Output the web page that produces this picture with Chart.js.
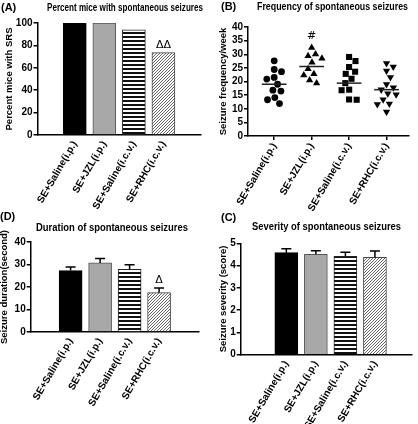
<!DOCTYPE html>
<html>
<head>
<meta charset="utf-8">
<script src="https://cdn.jsdelivr.net/npm/chart.js@4.4.1/dist/chart.umd.min.js"></script>
<style>
html,body{margin:0;padding:0;background:#fff;}
#wrap{position:relative;width:418px;height:424px;overflow:hidden;}
.p{position:absolute;width:209px;height:212px;}
</style>
</head>
<body>
<div id="wrap">
  <div class="p" style="left:0;top:0"><canvas id="cA" width="209" height="212"></canvas></div>
  <div class="p" style="left:209px;top:0"><canvas id="cB" width="209" height="212"></canvas></div>
  <div class="p" style="left:0;top:212px"><canvas id="cD" width="209" height="212"></canvas></div>
  <div class="p" style="left:209px;top:212px"><canvas id="cC" width="209" height="212"></canvas></div>
</div>
<script>
// ---- data ----
const groups = ["SE+Saline(i.p.)", "SE+JZL(i.p.)", "SE+Saline(i.c.v.)", "SE+RHC(i.c.v.)"];

// (A) percent mice with SRS
const pctSRS = [100, 100, 93.8, 73.5];
const pctMarks = ["", "", "", "ΔΔ"];
const pctTicks = [0, 20, 40, 60, 80, 100];

// (B) seizure frequency / week, one point per mouse
const freqSalineIP = [27.6, 24.4, 23.6, 21.5, 20.9, 19.0, 16.8, 16.5, 14.1, 13.3, 11.9];
const freqJZL = [32.4, 30.0, 29.4, 28.5, 27.0, 24.6, 22.8, 22.3, 20.5, 19.4];
const freqSalineICV = [29.0, 27.5, 25.3, 23.6, 22.8, 21.0, 19.4, 17.0, 16.8, 13.4, 13.3];
const freqRHC = [26.7, 25.4, 23.9, 21.5, 19.0, 17.8, 17.0, 15.6, 15.2, 13.4, 11.8, 11.6, 8.9];
const freqLine = [19.0, 25.5, 19.4, 17.0];
const freqMarks = ["", "#", "", ""];
const freqTicks = [0, 5, 10, 15, 20, 25, 30, 35, 40];

// (D) seizure duration, mean + SEM
const durMean = [27.3, 30.7, 27.8, 17.5];
const durSem = [1.6, 2.0, 2.1, 2.1];
const durMarks = ["", "", "", "Δ"];
const durTicks = [0, 10, 20, 30, 40];

// (C) seizure severity, mean + SEM
const sevMean = [4.58, 4.51, 4.42, 4.37];
const sevSem = [0.18, 0.16, 0.18, 0.29];
const sevTicks = [0, 1, 2, 3, 4, 5];

Chart.defaults.font.family = "'Liberation Sans', Arial, sans-serif";
Chart.defaults.font.weight = "bold";
Chart.defaults.color = "#000";
Chart.defaults.animation = false;

// fill patterns like the Prism bars
function stripes(){
  const c = document.createElement("canvas"); c.width = 4; c.height = 4;
  const g = c.getContext("2d");
  g.fillStyle = "#fff"; g.fillRect(0,0,4,4);
  g.fillStyle = "#111"; g.fillRect(0,0,4,2);
  return g.createPattern(c, "repeat");
}
function hatch(){
  const c = document.createElement("canvas"); c.width = 3; c.height = 3;
  const g = c.getContext("2d");
  g.fillStyle = "#fff"; g.fillRect(0,0,3,3);
  g.strokeStyle = "#555"; g.lineWidth = 0.9;
  g.beginPath();
  g.moveTo(-1,4); g.lineTo(4,-1);
  g.moveTo(-1,1); g.lineTo(1,-1);
  g.moveTo(2,4); g.lineTo(4,2);
  g.stroke();
  return g.createPattern(c, "repeat");
}
const barFills = ["#000", "#a8a8a8", stripes(), hatch()];
const barEdges = ["#000", "#555", "#222", "#444"];

/* ====== decorations: titles, SEM whiskers, group lines, marks ====== */
const deco = {
  id: "deco",
  afterDatasetsUpdate(chart, args, o){
    if (!o.swarm) return;
    // simple beeswarm so touching points sit side by side
    chart.data.datasets.forEach((ds, k) => {
      const els = chart.getDatasetMeta(k).data;
      const placed = [];
      els.slice().sort((a,b) => a.y - b.y).forEach(el => {
        const d = o.swarm, cx = el.x;
        const cands = [0];
        placed.forEach(p => {
          const dy = el.y - p.y;
          if (Math.abs(dy) < d){ const dx = Math.sqrt(d*d - dy*dy); cands.push(p.off + dx, p.off - dx); }
        });
        cands.sort((a,b) => Math.abs(a) - Math.abs(b) || b - a);
        const off = cands.find(c => placed.every(p => Math.hypot(c - p.off, el.y - p.y) >= d - 0.01));
        placed.push({off, y: el.y});
        el.x = cx + off;
      });
    });
  },
  afterDatasetsDraw(chart, args, o){
    const ctx = chart.ctx, x = chart.scales.x, y = chart.scales.y;
    ctx.save();
    ctx.strokeStyle = "#000"; ctx.lineWidth = 1.5;
    const tops = [];
    groups.forEach((g, i) => {
      const cx = x.getPixelForValue(i);
      let top;
      if (o.sem){
        const yb = y.getPixelForValue(o.mean[i]);
        top = y.getPixelForValue(o.mean[i] + o.sem[i]);
        ctx.beginPath();
        ctx.moveTo(cx, yb); ctx.lineTo(cx, top);
        ctx.moveTo(cx - 5, top); ctx.lineTo(cx + 5, top);
        ctx.stroke();
      } else if (o.line){
        const yl = y.getPixelForValue(o.line[i]);
        ctx.strokeStyle = "#222";
        ctx.beginPath();
        ctx.moveTo(x.getPixelForValue(i - 0.33), yl); ctx.lineTo(x.getPixelForValue(i + 0.33), yl);
        ctx.stroke();
        const pts = chart.getDatasetMeta(i).data;
        top = Math.min(...pts.map(p => p.y)) - 4;
      } else {
        top = chart.getDatasetMeta(0).data[i].y;
      }
      tops.push(top);
    });
    if (o.marks){
      ctx.fillStyle = "#000"; ctx.textAlign = "center"; ctx.textBaseline = "bottom";
      ctx.font = "11px 'DejaVu Sans', sans-serif";
      o.marks.forEach((m, i) => { if (m) ctx.fillText(m, x.getPixelForValue(i), tops[i] - 2); });
    }
    ctx.restore();
  },
  afterDraw(chart, args, o){
    const ctx = chart.ctx;
    ctx.save();
    ctx.fillStyle = "#000"; ctx.textBaseline = "middle";
    ctx.font = "bold 11px 'Liberation Sans', Arial, sans-serif";
    ctx.textAlign = "left";
    ctx.fillText(o.letter, o.lx, o.ly);
    // condensed bold title, like the Calibri in the figure
    ctx.font = "bold 11.5px 'Liberation Sans', Arial, sans-serif";
    const w = ctx.measureText(o.title).width;
    ctx.translate(o.tx, o.ty);
    ctx.scale(o.tw / w, 1);
    ctx.textAlign = "center";
    ctx.fillText(o.title, 0, 0);
    ctx.restore();
  }
};

function axes(o){
  return {
    x: {
      type: "linear", min: o.xmin, max: o.xmax,
      afterBuildTicks: s => { s.ticks = groups.map((g, i) => ({value: i})); },
      afterFit: s => { s.height = o.xh; },
      grid: {drawOnChartArea: false, drawTicks: !!o.xticks, tickLength: 4, color: "#000", lineWidth: 1.5},
      border: {color: "#000", width: 1.5},
      ticks: {autoSkip: false, minRotation: 60, maxRotation: 60, padding: o.xticks ? 1 : 4,
              color: "#000", font: {size: 10, weight: "bold"}, callback: v => groups[v]}
    },
    y: {
      min: o.ticks[0], max: o.ticks[o.ticks.length - 1],
      afterBuildTicks: s => { s.ticks = o.ticks.map(v => ({value: v})); },
      afterFit: s => { s.width = o.yw; },
      grid: {drawOnChartArea: false, drawTicks: true, tickLength: 4, color: "#000", lineWidth: 1.5},
      border: {color: "#000", width: 1.5},
      ticks: {autoSkip: false, padding: 1, color: "#000", font: {size: 10, weight: "bold"}},
      title: {display: true, text: o.ytitle, color: "#000", font: {size: 9.5, weight: "bold", lineHeight: 1},
              padding: {top: o.tp, bottom: 0}}
    }
  };
}

function barChart(id, vals, pad, ax, dec){
  return new Chart(document.getElementById(id), {
    type: "bar",
    data: {datasets: [{
      data: vals.map((v, i) => ({x: i, y: v})),
      backgroundColor: barFills, borderColor: barEdges, borderWidth: 1, barThickness: 23
    }]},
    options: {
      responsive: false,
      layout: {padding: pad},
      plugins: {legend: {display: false}, tooltip: {enabled: false}, deco: dec},
      scales: axes(ax)
    },
    plugins: [deco]
  });
}

/* ====== (A) ====== */
barChart("cA", pctSRS, {top: 23, right: 8, left: 0, bottom: 0},
  {xmin: -0.57, xmax: 3.58, xh: 77, yw: 37.5, ticks: pctTicks, ytitle: "Percent mice with SRS", tp: 4.5},
  {marks: pctMarks, letter: "(A)", lx: 1, ly: 7.5, title: "Percent mice with spontaneous seizures", tx: 125, ty: 7.5, tw: 156});

/* ====== (B) scatter ====== */
const freqSets = [freqSalineIP, freqJZL, freqSalineICV, freqRHC];
const shapes = [["circle", 0, 3.4], ["triangle", 0, 4.2], ["rect", 0, 4.3], ["triangle", 180, 4.2]];
new Chart(document.getElementById("cB"), {
  type: "scatter",
  data: {datasets: freqSets.map((vals, i) => ({
    data: vals.map(v => ({x: i, y: v})),
    pointStyle: shapes[i][0], rotation: shapes[i][1], radius: shapes[i][2],
    backgroundColor: "#000", borderColor: "#000", borderWidth: 0
  }))},
  options: {
    responsive: false,
    layout: {padding: {top: 27, right: 9, left: 0, bottom: 0}},
    plugins: {legend: {display: false}, tooltip: {enabled: false},
      deco: {swarm: 7.6, line: freqLine, marks: freqMarks, letter: "(B)", lx: 12, ly: 7,
             title: "Frequency of spontaneous seizures", tx: 123.5, ty: 7, tw: 151}},
    scales: axes({xmin: -0.7, xmax: 3.6, xh: 76, yw: 39, xticks: true, ticks: freqTicks,
                  ytitle: "Seizure frequency/week", tp: 10})
  },
  plugins: [deco]
});

/* ====== (D) ====== */
barChart("cD", durMean, {top: 30, right: 10, left: 0, bottom: 0},
  {xmin: -0.64, xmax: 3.64, xh: 92, yw: 30.7, ticks: durTicks, ytitle: "Seizure duration(second)", tp: 0},
  {mean: durMean, sem: durSem, marks: durMarks, letter: "(D)", lx: 0, ly: 5,
   title: "Duration of spontaneous seizures", tx: 112, ty: 16, tw: 152});

/* ====== (C) ====== */
barChart("cC", sevMean, {top: 31.3, right: 6, left: 0, bottom: 0},
  {xmin: -0.82, xmax: 3.53, xh: 69.3, yw: 31.7, ticks: sevTicks, ytitle: "Seizure severity (score)", tp: 10},
  {mean: sevMean, sem: sevSem, letter: "(C)", lx: 12, ly: 6,
   title: "Severity of spontaneous seizures", tx: 117.5, ty: 15, tw: 149});
</script>
</body>
</html>
